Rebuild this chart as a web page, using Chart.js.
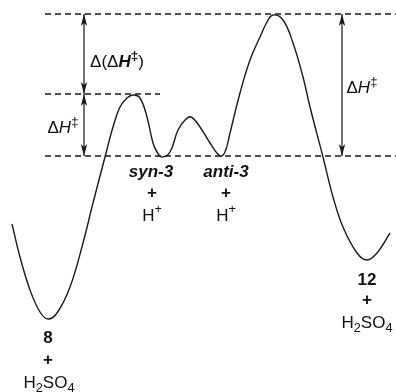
<!DOCTYPE html>
<html>
<head>
<meta charset="utf-8">
<script src="https://cdn.jsdelivr.net/npm/chart.js@4/dist/chart.umd.min.js"></script>
<style>
html,body{margin:0;padding:0;background:#fff;}
#wrap{width:396px;height:392px;}
</style>
</head>
<body>
<div id="wrap"><canvas id="c" width="396" height="392"></canvas></div>
<script>
// Reaction coordinate (arbitrary units) and relative enthalpy (arbitrary units, syn-3 = 0)
const pathX = [12, 20, 30, 40, 48, 57, 70, 83, 93, 105, 113, 120, 127, 133, 140, 147, 153, 157, 162, 170, 178, 185, 191, 200, 210, 220, 225, 230, 240, 250, 260, 267, 273, 283, 293, 303, 310, 323, 333, 343, 357, 367, 377, 390];
const pathE = [-68, -101, -134, -156, -163, -157, -131, -87, -47, -1, 29, 49, 58, 61, 58, 39, 13, 4, -1, 4, 26, 36, 39, 29, 13, 0, 4, 23, 63, 96, 119, 134, 141, 136, 113, 79, 49, -1, -41, -71, -97, -104, -97, -77];

// Reference energy levels
const levelNames = ['TS (12)', 'TS (syn-3)', 'syn-3 / anti-3'];
const levelE = [142, 62, 0];
const levelXStart = [45, 45, 45];
const levelXEnd = [396, 160, 396];

// Double arrows: x position, from-level, to-level
const arrowX = [84, 84, 342];
const arrowFrom = [142, 62, 142];
const arrowTo = [62, 0, 0];

const FONT = '"Liberation Sans", Arial, Helvetica, sans-serif';
const SZ = 17;

// Labels: rich-text segments
const labels = [
  {x: 117, y: 94, segs: [{t:'Δ(Δ'},{t:'H', w:'bold italic'},{t:'‡', w:'bold', s:0.8, dy:-6},{t:')'}]},
  {x: 63, y: 28, segs: [{t:'Δ'},{t:'H', w:'italic'},{t:'‡', s:0.8, dy:-6}]},
  {x: 362, y: 68, segs: [{t:'Δ'},{t:'H', w:'italic'},{t:'‡', s:0.8, dy:-6}]},
  {x: 151, y: -16, segs: [{t:'syn-3', w:'bold italic'}]},
  {x: 152, y: -37, segs: [{t:'+', w:'bold'}]},
  {x: 152, y: -60, segs: [{t:'H'},{t:'+', s:0.75, dy:-7}]},
  {x: 226, y: -16, segs: [{t:'anti-3', w:'bold italic'}]},
  {x: 226, y: -37, segs: [{t:'+', w:'bold'}]},
  {x: 226, y: -60, segs: [{t:'H'},{t:'+', s:0.75, dy:-7}]},
  {x: 48, y: -182, segs: [{t:'8', w:'bold'}]},
  {x: 48, y: -204, segs: [{t:'+', w:'bold'}]},
  {x: 49, y: -227, segs: [{t:'H'},{t:'2', s:0.75, dy:5},{t:'SO'},{t:'4', s:0.75, dy:5}]},
  {x: 367, y: -124, segs: [{t:'12', w:'bold'}]},
  {x: 367, y: -144, segs: [{t:'+', w:'bold'}]},
  {x: 367, y: -167, segs: [{t:'H'},{t:'2', s:0.75, dy:5},{t:'SO'},{t:'4', s:0.75, dy:5}]}
];

const datasets = [];
datasets.push({
  label: 'profile',
  data: pathX.map((x, i) => ({x, y: pathE[i]})),
  borderColor: '#1a1a1a',
  borderWidth: 1.4,
  pointRadius: 0,
  tension: 0.4,
  fill: false
});
levelE.forEach((e, i) => {
  datasets.push({
    label: levelNames[i],
    data: [{x: levelXStart[i], y: e}, {x: levelXEnd[i], y: e}],
    borderColor: '#1a1a1a',
    borderWidth: 1.4,
    borderDash: [6, 4],
    pointRadius: 0,
    fill: false
  });
});
arrowX.forEach((x, i) => {
  datasets.push({
    label: 'arrow' + i,
    data: [{x, y: arrowFrom[i]}, {x, y: arrowTo[i]}],
    borderColor: '#1a1a1a',
    borderWidth: 1.2,
    pointRadius: 0,
    fill: false
  });
});

function drawRich(ctx, cx, cy, segs) {
  let total = 0;
  const parts = segs.map(s => {
    const size = SZ * (s.s || 1);
    const font = (s.w ? s.w + ' ' : '') + size + 'px ' + FONT;
    ctx.font = font;
    const w = ctx.measureText(s.t).width;
    total += w;
    return {t: s.t, font, w, dy: s.dy || 0};
  });
  let x = cx - total / 2;
  ctx.textBaseline = 'middle';
  ctx.textAlign = 'left';
  ctx.fillStyle = '#111';
  parts.forEach(p => {
    ctx.font = p.font;
    ctx.fillText(p.t, x, cy + p.dy);
    x += p.w;
  });
}

const overlay = {
  id: 'overlay',
  afterDatasetsDraw(chart) {
    const ctx = chart.ctx;
    const xs = chart.scales.x, ys = chart.scales.y;
    ctx.save();
    ctx.fillStyle = '#1a1a1a';
    arrowX.forEach((ax, i) => {
      const px = xs.getPixelForValue(ax);
      [[arrowFrom[i], arrowTo[i]], [arrowTo[i], arrowFrom[i]]].forEach(([tipE, otherE]) => {
        const tip = ys.getPixelForValue(tipE);
        const dir = Math.sign(ys.getPixelForValue(otherE) - tip);
        ctx.beginPath();
        ctx.moveTo(px, tip);
        ctx.lineTo(px - 3.2, tip + dir * 12);
        ctx.lineTo(px, tip + dir * 9);
        ctx.lineTo(px + 3.2, tip + dir * 12);
        ctx.closePath();
        ctx.fill();
      });
    });
    labels.forEach(l => drawRich(ctx, xs.getPixelForValue(l.x), ys.getPixelForValue(l.y), l.segs));
    ctx.restore();
  }
};

new Chart(document.getElementById('c'), {
  type: 'scatter',
  data: {datasets},
  options: {
    responsive: false,
    animation: false,
    showLine: true,
    layout: {padding: 0},
    plugins: {legend: {display: false}, tooltip: {enabled: false}},
    scales: {
      x: {type: 'linear', display: false, min: 0, max: 396},
      y: {type: 'linear', display: false, min: -236, max: 156}
    },
    elements: {line: {borderCapStyle: 'butt'}}
  },
  plugins: [overlay]
});
</script>
</body>
</html>
